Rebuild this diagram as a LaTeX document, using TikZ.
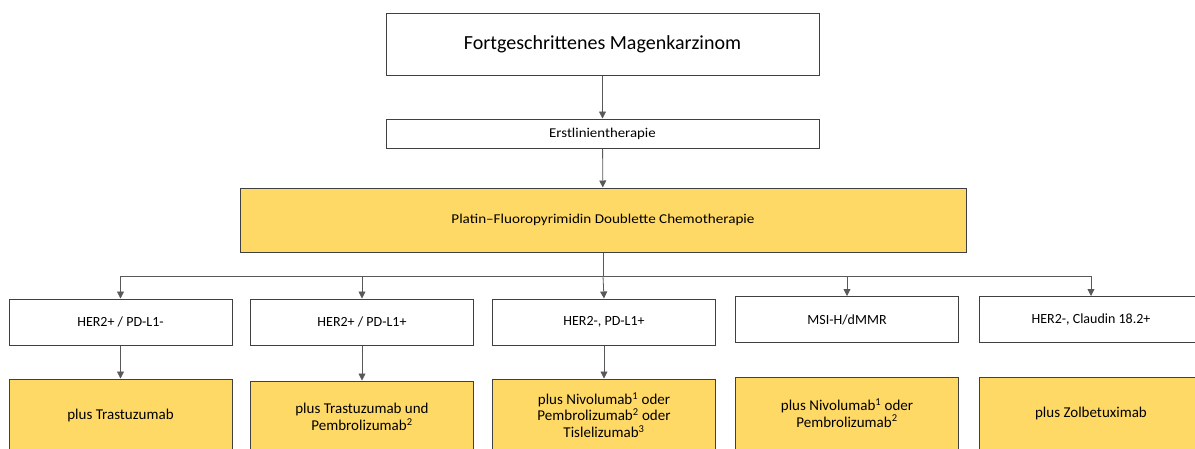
\documentclass[tikz,border=0pt]{standalone}
\usepackage{fontspec}
\setmainfont{Carlito}
\usetikzlibrary{arrows.meta}
\definecolor{boxyellow}{HTML}{FFD966}
\definecolor{edgecol}{HTML}{404040}
\definecolor{conncol}{HTML}{595959}
\newcommand{\hstretch}[2]{\scalebox{#1}[1]{#2}}
\begin{document}
\begin{tikzpicture}[x=1pt,y=-1pt,
  box/.style={draw=edgecol,line width=1pt,inner sep=0pt,align=center,text=black},
  wbox/.style={box,fill=white},
  ybox/.style={box,fill=boxyellow},
  rowtwo/.style={wbox,minimum width=223pt,minimum height=46pt,font=\fontsize{14}{17}\selectfont},
  rowthree/.style={ybox,minimum width=223pt,minimum height=72pt,font=\fontsize{15}{16.5}\selectfont},
  arr/.style={draw=conncol,line width=0.8pt,-{Triangle[length=7pt,width=7pt]}},
  ln/.style={draw=conncol,line width=0.8pt}]
\useasboundingbox (0,0) rectangle (1195,448);
\clip (0,0) rectangle (1195,448);
\node[wbox,minimum width=433pt,minimum height=62pt,font=\fontsize{20}{24}\selectfont] (top) at (602.5,44) {Fortgeschrittenes Magenkarzinom};
\node[wbox,minimum width=433pt,minimum height=29pt,font=\fontsize{13.5}{16}\selectfont] (erst) at (602.5,133.5) {\hstretch{1.1}{Erstlinientherapie}};
\node[ybox,minimum width=726pt,minimum height=64pt,font=\fontsize{13.5}{16}\selectfont] (platin) at (603,220) {\hstretch{1.12}{Platin–Fluoropyrimidin Doublette Chemotherapie}};
\node[rowtwo] (b1) at (120.5,322) {HER2+ / PD-L1-};
\node[rowtwo] (b2) at (362,322) {HER2+ / PD-L1+};
\node[rowtwo] (b3) at (604,322) {HER2-, PD-L1+};
\node[rowtwo] (b4) at (847,319.5) {MSI-H/dMMR};
\node[rowtwo] (b5) at (1091,319.5) {HER2-, Claudin 18.2+};
\node[rowthree] (c1) at (120.5,415) {plus Trastuzumab};
\node[rowthree] (c2) at (362,417) {plus Trastuzumab und\\Pembrolizumab\textsuperscript{2}};
\node[rowthree] (c3) at (604,415) {plus Nivolumab\textsuperscript{1} oder\\Pembrolizumab\textsuperscript{2} oder\\Tislelizumab\textsuperscript{3}};
\node[rowthree] (c4) at (847,413) {plus Nivolumab\textsuperscript{1} oder\\Pembrolizumab\textsuperscript{2}};
\node[rowthree] (c5) at (1091,413) {plus Zolbetuximab};
\coordinate (junc) at (603,276);
\draw[arr] (top) -- (erst);
\draw[arr] (erst) -- (platin);
\draw[ln] (platin.south) -- (junc);
\draw[arr] (junc) -- (b3.north);
\draw[arr] (junc) -| (b1.north);
\draw[arr] (junc) -| (b2.north);
\draw[arr] (junc) -| (b4.north);
\draw[arr] (junc) -| (b5.north);
\draw[arr] (b1) -- (c1);
\draw[arr] (b2) -- (c2);
\draw[arr] (b3) -- (c3);
\end{tikzpicture}
\end{document}
